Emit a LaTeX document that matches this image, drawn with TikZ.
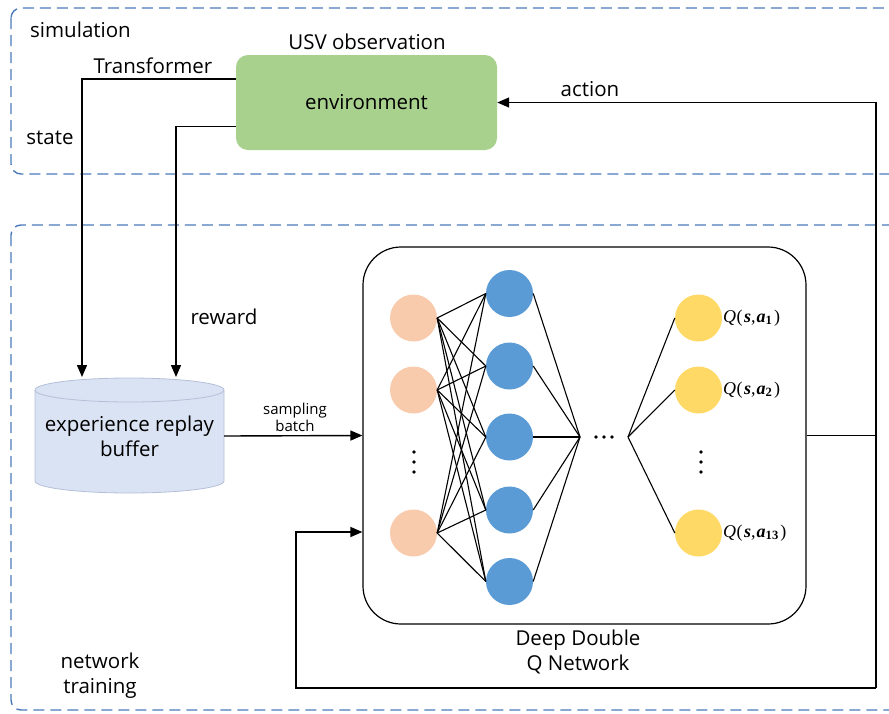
\documentclass[tikz,border=0pt]{standalone}
\usepackage{fontspec}
\setmainfont{Open Sans}
\newfontfamily\qfont{Liberation Serif}
\usetikzlibrary{arrows.meta,calc}
\definecolor{dashblue}{RGB}{74,122,186}
\definecolor{envgreen}{RGB}{169,209,142}
\definecolor{cylfill}{RGB}{218,227,243}
\definecolor{cyledge}{RGB}{180,192,216}
\definecolor{inpeach}{RGB}{248,203,173}
\definecolor{hidblue}{RGB}{91,155,213}
\definecolor{outyellow}{RGB}{255,217,102}
\newcommand{\qlab}[1]{{\qfont\fontsize{18}{20}\selectfont\textit{Q}\kern0.5pt(\kern1.5pt\textbf{\textit{s}},\kern1pt\textbf{\textit{a}}\textsubscript{\textbf{#1}}\kern1.5pt)}}
\begin{document}
\begin{tikzpicture}[x=1pt,y=-1pt,
  font=\fontsize{20.5}{25}\selectfont,
  conn/.style={line width=1.4pt, black},
  arr/.style={conn, -{Triangle[length=12pt,width=10pt]}},
  dashbox/.style={dashblue, line width=1.4pt, dash pattern=on 11pt off 6pt, rounded corners=10pt},
  neuron/.style={circle, minimum size=47pt, inner sep=0pt},
  nnline/.style={line width=1.1pt, black},
  lbl/.style={inner sep=0pt, align=center},
  dot/.style={circle, fill=black, minimum size=3.6pt, inner sep=0pt},
]
\useasboundingbox (0,0) rectangle (889,713);
\clip (0,0) rectangle (889,713);

% dashed regions
\draw[dashbox] (11,8) rectangle (905,174);
\draw[dashbox] (11,225) rectangle (905,710);

% environment
\node[fill=envgreen, rounded corners=12pt, minimum width=261pt, minimum height=95pt, inner sep=0pt] (env) at (366.5,102.5) {environment};

% labels
\node[lbl, anchor=west] (simlbl) at (30,30) {simulation};
\node[lbl] (usvlbl) at (367,42) {USV observation};
\node[lbl] (translbl) at (153,66) {Transformer};
\node[lbl] (statelbl) at (50,137.5) {state};
\node[lbl] (actlbl) at (590,89.5) {action};
\node[lbl] (rewlbl) at (224,316.5) {reward};
\node[lbl, font=\fontsize{15}{17}\selectfont] (samplbl) at (295,417) {sampling\\batch};
\node[lbl] (ddqlbl) at (578,652) {Deep Double\\Q Network};
\node[lbl] (ntlbl) at (100,676) {network\\training};

% cylinder (experience replay buffer)
\path[fill=cylfill, draw=cyledge, line width=0.8pt] (35,390) -- (35,481)
  arc[start angle=180, end angle=360, x radius=94.5pt, y radius=12pt] -- (224,390)
  arc[start angle=0, end angle=180, x radius=94.5pt, y radius=12pt] -- cycle;
\draw[cyledge, line width=0.8pt] (35,390) arc[start angle=180, end angle=360, x radius=94.5pt, y radius=12pt];
\node[lbl, minimum width=189pt, minimum height=91pt] (buffer) at (129.5,436) {experience replay\\buffer};

% network box
\node[draw, line width=1.2pt, rounded corners=38pt, minimum width=443pt, minimum height=377pt, inner sep=0pt] (nn) at (584.5,435.5) {};

% neurons
\node[neuron, fill=inpeach] (i1) at (413.5,318) {};
\node[neuron, fill=inpeach] (i2) at (413.5,390) {};
\node[neuron, fill=inpeach] (i3) at (413.5,533) {};
\node[neuron, fill=hidblue] (h1) at (509.5,293.5) {};
\node[neuron, fill=hidblue] (h2) at (509.5,366) {};
\node[neuron, fill=hidblue] (h3) at (509.5,437) {};
\node[neuron, fill=hidblue] (h4) at (509.5,510) {};
\node[neuron, fill=hidblue] (h5) at (509.5,581.5) {};
\node[neuron, fill=outyellow] (o1) at (698.5,318) {};
\node[neuron, fill=outyellow] (o2) at (698.5,390) {};
\node[neuron, fill=outyellow] (o3) at (698.5,533) {};

% ellipsis dots
\foreach \yy [count=\k] in {452,462,472} {
  \node[dot] (id\k) at (414,\yy) {};
  \node[dot] (od\k) at (701,\yy) {};
}
\foreach \xx [count=\k] in {596,604,612}
  \node[dot] (hd\k) at (\xx,437) {};

\coordinate (conv) at (580,437);
\coordinate (div) at (628,437);

\foreach \i in {i1,i2,i3}
  \foreach \h in {h1,h2,h3,h4,h5}
    \draw[nnline] (\i.east) -- (\h.west);
\foreach \h in {h1,h2,h3,h4,h5}
  \draw[nnline] (\h.east) -- (conv);
\foreach \o in {o1,o2,o3}
  \draw[nnline] (div) -- (\o.west);

\node[lbl, anchor=west] (q1) at (723,318) {\qlab{1}};
\node[lbl, anchor=west] (q2) at (723,390) {\qlab{2}};
\node[lbl, anchor=west] (q3) at (723,533) {\qlab{13}};

% connectors
\coordinate (sEnd) at (82,377);
\coordinate (rEnd) at (176,377);
\coordinate (RB) at (876,688);
\coordinate (LB) at (296,688);

\draw[arr] ([yshift=23.5pt]env.west) -| (sEnd);
\draw[arr] ([yshift=-24pt]env.west) -| (rEnd);
\draw[arr] (buffer.east) -- (nn.west);
\draw[conn] (nn.east) -- (nn.east -| RB);
\draw[arr] (RB) |- (env.east);
\draw[arr] (RB) -- (LB) |- ([yshift=-96.5pt]nn.west);
\end{tikzpicture}
\end{document}
